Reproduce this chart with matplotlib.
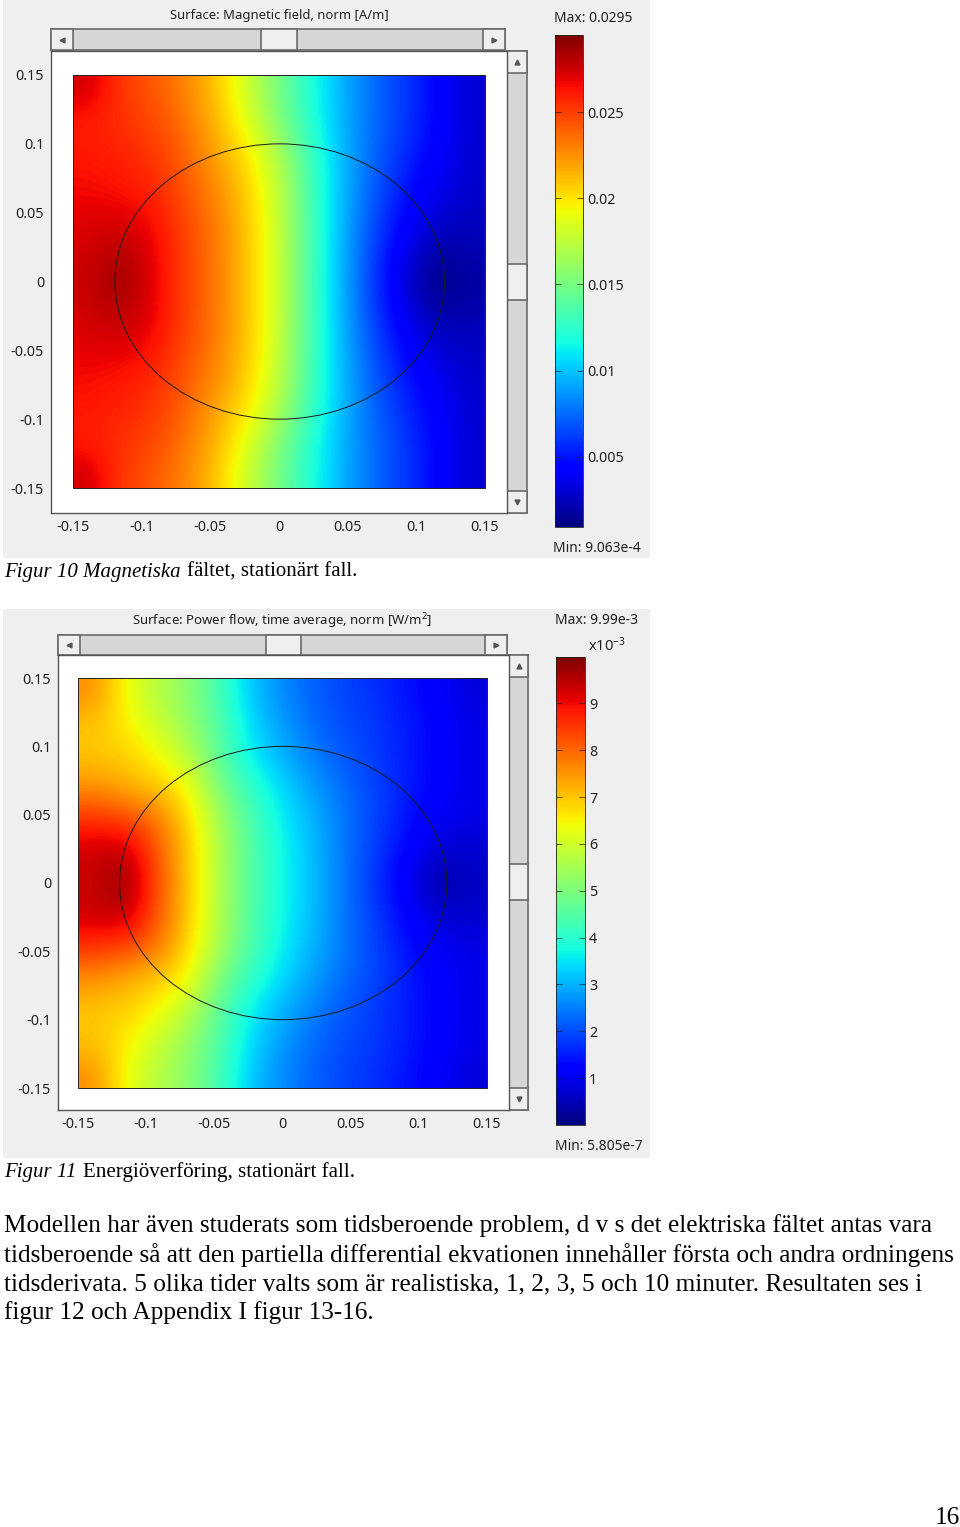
import matplotlib
matplotlib.use("Agg")
import matplotlib.pyplot as plt
import numpy as np
from matplotlib.patches import Ellipse, Rectangle

W, H = 960, 1527

# axis ticks
xy_ticks = [-0.15, -0.1, -0.05, 0, 0.05, 0.1, 0.15]
xy_labels = ["-0.15", "-0.1", "-0.05", "0", "0.05", "0.1", "0.15"]

# magnetic field norm, x 1e-3 A/m, x = -0.15..0.15, rows y = 0.15..0 (lower half is the mirror)
field_h = [
    [27.5, 25.2, 24.3, 23.0, 21.0, 18.0, 15.0, 12.0, 9.5, 7.5, 6.0, 4.5, 3.0],
    [26.0, 25.5, 24.8, 23.5, 21.5, 18.8, 15.5, 12.3, 9.5, 7.5, 6.0, 4.5, 3.0],
    [26.2, 25.9, 25.3, 24.0, 22.0, 20.0, 17.0, 12.9, 9.7, 7.3, 5.6, 4.2, 3.0],
    [26.6, 26.3, 25.8, 24.4, 22.7, 20.6, 17.6, 13.2, 9.7, 7.0, 5.0, 3.8, 2.8],
    [27.0, 27.2, 26.5, 24.8, 23.2, 20.9, 17.9, 13.3, 9.6, 6.6, 4.4, 3.0, 2.6],
    [27.4, 28.2, 27.0, 25.0, 23.3, 21.0, 18.0, 13.3, 9.5, 6.2, 3.6, 1.8, 2.2],
    [27.6, 29.0, 27.0, 25.0, 23.3, 21.0, 18.0, 13.3, 9.4, 6.0, 3.0, 1.0, 1.8],
]
h_min, h_max = 0.9063, 29.5
h_ticks = [5, 10, 15, 20, 25]
h_tick_labels = ["0.005", "0.01", "0.015", "0.02", "0.025"]

# power flow norm, x 1e-3 W/m2
field_p = [
    [7.6, 6.4, 5.7, 5.2, 4.3, 3.2, 2.6, 2.2, 1.9, 1.7, 1.4, 1.1, 0.8],
    [7.0, 6.6, 6.0, 5.3, 4.5, 3.4, 2.8, 2.3, 2.0, 1.8, 1.5, 1.2, 0.9],
    [7.0, 6.9, 6.5, 5.8, 4.6, 3.6, 3.0, 2.5, 2.1, 1.8, 1.5, 1.2, 0.9],
    [7.6, 7.3, 7.0, 6.5, 5.0, 4.1, 3.4, 2.8, 2.3, 1.9, 1.5, 1.2, 0.9],
    [8.6, 8.4, 7.9, 6.8, 5.5, 4.4, 3.6, 3.0, 2.4, 1.9, 1.4, 1.0, 0.9],
    [9.3, 9.5, 8.2, 7.0, 5.6, 4.5, 3.7, 3.1, 2.4, 1.8, 1.2, 0.7, 0.7],
    [9.3, 9.9, 8.3, 7.0, 5.6, 4.5, 3.7, 3.1, 2.4, 1.7, 1.0, 0.3, 0.6],
]
p_min, p_max = 0.0, 9.99
p_ticks = [1, 2, 3, 4, 5, 6, 7, 8, 9]

body = [
    "Modellen har även studerats som tidsberoende problem, d v s det elektriska fältet antas vara",
    "tidsberoende så att den partiella differential ekvationen innehåller första och andra ordningens",
    "tidsderivata. 5 olika tider valts som är realistiska, 1, 2, 3, 5 och 10 minuter. Resultaten ses i",
    "figur 12 och Appendix I figur 13-16.",
]

plt.rcParams["font.family"] = ["Noto Sans", "DejaVu Sans"]
plt.rcParams["mathtext.fontset"] = "dejavusans"
plt.rcParams["mathtext.default"] = "regular"

fig = plt.figure(figsize=(W / 100, H / 100), dpi=100, facecolor="white")


def axes_px(x0, y0, x1, y1, **kw):
    return fig.add_axes([x0 / W, 1 - y1 / H, (x1 - x0) / W, (y1 - y0) / H], **kw)


# page background in pixel coordinates
page = axes_px(0, 0, W, H)
page.set_xlim(0, W)
page.set_ylim(H, 0)
page.axis("off")


def box(x0, y0, x1, y1, fc, ec="none", lw=0):
    page.add_patch(Rectangle((x0, y0), x1 - x0, y1 - y0, fc=fc, ec=ec, lw=lw))


def button(x0, y0, x1, y1):
    box(x0, y0, x1, y1, "#efefef", "#6a6a6a", 1.2)


def arrow(x, y, marker):
    page.plot([x], [y], marker=marker, ms=3.5, color="#555555")


def scrollbars(hx0, hx1, hy0, hy1, thumb_h, vx0, vx1, vy0, vy1, thumb_v):
    box(hx0, hy0, hx1, hy1, "#d6d6d6", "#6a6a6a", 1.2)
    button(hx0, hy0, hx0 + 22, hy1)
    button(hx1 - 22, hy0, hx1, hy1)
    button(thumb_h[0], hy0, thumb_h[1], hy1)
    arrow(hx0 + 11, (hy0 + hy1) / 2, "<")
    arrow(hx1 - 11, (hy0 + hy1) / 2, ">")
    box(vx0, vy0, vx1, vy1, "#d6d6d6", "#6a6a6a", 1.2)
    button(vx0, vy0, vx1, vy0 + 22)
    button(vx0, vy1 - 22, vx1, vy1)
    button(vx0, thumb_v[0], vx1, thumb_v[1])
    arrow((vx0 + vx1) / 2, vy0 + 11, "^")
    arrow((vx0 + vx1) / 2, vy1 - 11, "v")


def surface(field, vmin, vmax, white, img):
    # white = plot window in px, img = image corners in px (left, top, right, bottom)
    ax = axes_px(*white)
    sx = 0.3 / (img[2] - img[0])
    sy = 0.3 / (img[3] - img[1])
    half = np.array(field)
    grid = np.vstack([half, half[-2::-1]])
    im = ax.imshow(grid, extent=(-0.15, 0.15, -0.15, 0.15), cmap="jet", vmin=vmin, vmax=vmax,
                   interpolation="bicubic", aspect="auto")
    ax.set_xlim(-0.15 + (white[0] - img[0]) * sx, 0.15 + (white[2] - img[2]) * sx)
    ax.set_ylim(-0.15 - (white[3] - img[3]) * sy, 0.15 + (img[1] - white[1]) * sy)
    ax.add_patch(Rectangle((-0.15, -0.15), 0.3, 0.3, fc="none", ec="#222222", lw=0.7))
    ax.add_patch(Ellipse((0.0005, 0.0), 0.24, 0.2, fc="none", ec="#1a1a1a", lw=0.7))
    ax.set_xticks(xy_ticks, xy_labels)
    ax.set_yticks(xy_ticks, xy_labels)
    ax.tick_params(length=0, labelsize=10.3, colors="#222222")
    ax.tick_params(axis="x", pad=5)
    ax.tick_params(axis="y", pad=5)
    for name, sp in ax.spines.items():
        sp.set_color("#555555")
        sp.set_linewidth(1.0)
    return im


def colorbar(im, box_px, ticks, labels=None):
    cax = axes_px(*box_px)
    cb = fig.colorbar(im, cax=cax, ticks=ticks)
    if labels is not None:
        cb.set_ticklabels(labels)
    cb.ax.tick_params(direction="in", length=4, width=0.5, left=True, right=True,
                      labelsize=10.3, pad=3, colors="#222222")
    cb.outline.set_edgecolor("#222222")
    cb.outline.set_linewidth(0.6)


# first panel
box(3, 0, 650, 558, "#efefef")
scrollbars(51, 505, 29, 50, (261, 297), 507, 527, 51, 513, (264, 300))
im_h = surface(field_h, h_min, h_max, (51, 51, 507, 513), (73, 75, 485, 488))
colorbar(im_h, (555, 35, 583, 527), h_ticks, h_tick_labels)
page.text(279, 16, "Surface: Magnetic field, norm [A/m]", ha="center", va="center", fontsize=9.4, color="#222222")
page.text(554, 19, "Max: 0.0295", ha="left", va="center", fontsize=10, color="#222222")
page.text(553, 549, "Min: 9.063e-4", ha="left", va="center", fontsize=10, color="#222222")

# second panel
box(3, 609, 650, 1158, "#efefef")
scrollbars(58, 507, 635, 655, (266, 301), 509, 528, 655, 1110, (864, 900))
im_p = surface(field_p, p_min, p_max, (58, 655, 509, 1110), (78, 678, 487, 1088))
colorbar(im_p, (556, 657, 585, 1125), p_ticks)
page.text(282, 621, "Surface: Power flow, time average, norm [W/m$^2$]", ha="center", va="center", fontsize=9.5, color="#222222")
page.text(555, 620, "Max: 9.99e-3", ha="left", va="center", fontsize=10, color="#222222")
page.text(588, 646, "x10$^{-3}$", ha="left", va="center", fontsize=10.5, color="#222222")
page.text(555, 1147, "Min: 5.805e-7", ha="left", va="center", fontsize=10, color="#222222")

# captions and body text
serif = "Liberation Serif"
page.text(4, 572, "Figur 10 Magnetiska", family=serif, style="italic", fontsize=15, ha="left", va="center")
page.text(187, 572, "fältet, stationärt fall.", family=serif, fontsize=15, ha="left", va="center")
page.text(4, 1172, "Figur 11", family=serif, style="italic", fontsize=15, ha="left", va="center")
page.text(83, 1172, "Energiöverföring, stationärt fall.", family=serif, fontsize=15.1, ha="left", va="center")
for line, y in zip(body, [1226, 1255, 1284, 1313]):
    page.text(4, y, line, family=serif, fontsize=18.15, ha="left", va="center")
page.text(960, 1518, "16", family=serif, fontsize=18.15, ha="right", va="center")

fig.savefig("out.png", dpi=100)
